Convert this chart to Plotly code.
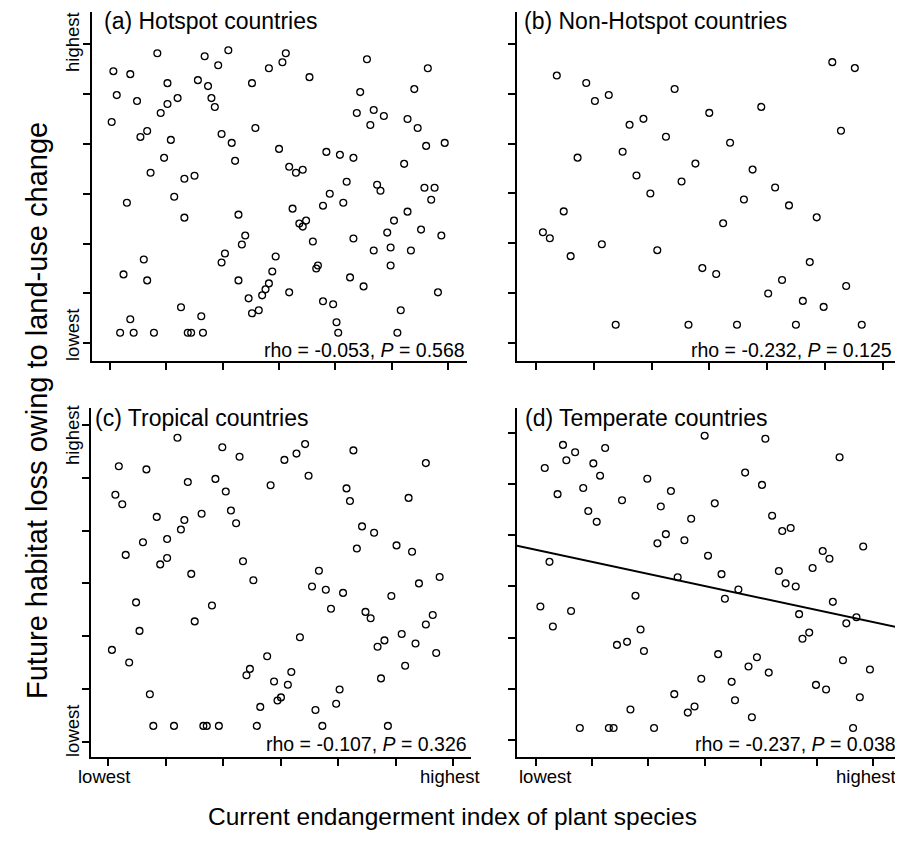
import plotly.graph_objects as go

# ---------------- data (index scale: 0 = lowest, 100 = highest) ----------------
hot_x = [1, 6, 2, 0.5, 8, 14, 17, 17, 20, 15,
         9, 11, 18, 16, 12, 22, 25, 5, 19, 22,
         28, 32, 35, 26, 29, 30, 31, 33, 36, 37,
         42, 43, 47, 51, 52, 59, 50, 53, 55, 57,
         38, 40, 39, 34, 33, 38, 41, 42, 44, 45,
         46, 47, 48, 49, 53, 54, 56, 57, 58, 60,
         61, 61.5, 63, 63, 66, 67, 67.5, 64, 68, 72,
         65, 70, 69, 71, 72, 75, 76, 74, 73, 78,
         77, 81, 79, 80, 78, 82, 83, 83, 84, 86,
         85, 87, 88, 90, 91, 93.5, 94, 93, 96, 95,
         88, 92, 89, 98, 99, 97, 4, 10, 11, 6,
         3, 7, 13, 21, 23, 24, 27, 27.5]
hot_y = [91, 90, 83, 74, 81, 97, 87, 80, 82, 77,
         69, 71, 68, 62, 57, 55, 56, 47, 49, 42,
         96, 93, 98, 88, 86, 82, 79, 70, 67, 61,
         87, 72, 92, 94, 97, 89, 65, 59, 57, 58,
         43, 36, 33, 30, 27, 21, 15, 10, 11, 16,
         18, 20, 24, 29, 17, 45, 40, 39, 41, 34,
         25, 26, 46, 14, 13, 7, 3.5, 64, 63, 62,
         50, 54, 47, 22, 35, 19, 95, 84, 77, 78,
         73, 76, 53, 51, 31, 37, 32, 26, 41, 11,
         3.5, 60, 75, 85, 72, 66, 92, 52, 52, 48,
         44, 38, 31, 36, 67, 17, 23, 28, 21, 8,
         3.5, 3.5, 3.5, 12, 3.5, 3.5, 9, 3.5]

nonhot_x = [6, 14.5, 17, 21, 12, 8, 2, 4, 10, 19,
            23, 27, 31, 25, 29, 33, 37.5, 40, 42, 46,
            35, 44, 48, 52, 50, 56, 54, 58, 60, 62.5,
            65, 69, 73, 67, 71, 75, 77, 79, 81, 83,
            85.5, 92, 88, 89.5, 94]
nonhot_y = [89.5, 87, 81, 83, 62, 44, 37, 35, 29, 33,
            6, 73, 75, 64, 56, 50, 69, 85, 54, 60,
            31, 6, 25, 23, 77, 67, 40, 6, 48, 58,
            79, 52, 46, 16.5, 21, 6, 14, 27, 42, 12,
            94, 92, 71, 19, 6]

trop_x = [3, 11, 2, 4, 20, 23, 14, 22, 21, 17,
          10, 5, 17, 15, 27, 24, 33, 38, 31, 34,
          35.5, 37, 39, 42, 47, 51, 54.5, 57, 58, 8,
          9, 1, 6, 12, 13, 19, 27.5, 28.5, 32, 30,
          25, 43, 44, 40, 41, 46, 48, 49, 50, 52,
          53, 55.5, 59, 61, 63, 64.5, 68, 60, 62, 66,
          67, 71, 69, 70, 73.5, 77, 72, 92, 87, 83.5,
          88, 96, 90, 82, 74.5, 76, 94, 92, 85, 80,
          78, 89, 95, 86, 79, 81]
trop_y = [87, 86, 78, 75, 96, 82, 71, 70, 67, 64,
          63, 59, 58, 56, 72, 53, 93, 90, 83, 79,
          73, 69, 57, 51, 81, 89, 91, 94, 84, 44,
          35, 29, 25, 15, 5, 5, 5, 5, 5, 43,
          38, 5, 11, 21, 23, 27, 19, 13, 14, 18,
          22, 33, 49, 54, 48, 42, 47, 10, 5, 12,
          16.5, 92, 80, 76, 68, 66, 61, 88, 77, 62,
          60, 52, 50, 46, 41, 39, 40, 37, 34, 32,
          30, 31, 28, 24, 20, 5]

temp_x = [2.6, 8, 9, 11.6, 6.4, 14, 17, 19, 20.5, 15.5,
          18, 25.5, 4, 1.3, 5, 10.4, 13, 21.6, 23, 28,
          24, 27, 31, 32, 29.5, 33, 36, 37, 38.5, 40,
          35, 41, 42, 44, 45, 46, 47, 49, 50, 51,
          53, 54, 55, 56, 58, 59, 60, 62, 63, 64,
          65.5, 67, 68, 69, 70, 72, 73, 74, 75.5, 77,
          78, 79, 81, 82, 83, 85, 86, 87, 88, 90,
          91, 92, 94, 95, 96, 97, 99]
temp_y = [88.5, 96, 91, 93.6, 80, 82, 90, 86, 95, 74.5,
          71, 78, 58, 43.5, 37, 42, 4, 4, 4, 10,
          31, 32, 36, 29, 47, 85, 64, 76, 67, 81,
          4, 15, 53, 65, 9, 72, 11, 20, 99, 60,
          77, 28, 54, 46, 19, 13, 49, 87, 24, 7.5,
          27, 83, 98, 22, 73, 55, 68, 51, 69, 50,
          41, 33, 35, 56, 18, 61.5, 16.5, 59, 45, 92,
          26, 38, 4, 40, 14, 63, 23]

# fitted regression for temperate countries (intercept, slope)
temp_fit_intercept = 61.9
temp_fit_slope = -0.235

panel_titles = ["(a) Hotspot countries", "(b) Non-Hotspot countries",
                "(c) Tropical countries", "(d) Temperate countries"]
panel_stats = ["rho = -0.053, <i>P</i> = 0.568", "rho = -0.232, <i>P</i> = 0.125",
               "rho = -0.107, <i>P</i> = 0.326", "rho = -0.237, <i>P</i> = 0.038"]

tick_vals = [0, 100 / 6, 200 / 6, 50, 400 / 6, 500 / 6, 100]
x_axis_labels = ["lowest", "highest"]
y_axis_labels = ["lowest", "highest"]

x_title = "Current endangerment index of plant species"
y_title = "Future habitat loss owing to land-use change"

# ---------------- layout geometry ----------------
FONT = "Liberation Sans"
OFF = 8                          # page body margin of the html page
W, H = 903, 843                  # window size
FW, FH = W - OFF, H - 2 * OFF    # figure size so that the page fits the window


def fx(px):
    return (px - OFF) / FW


def fy(py):
    return 1 - (py - OFF) / FH


# panel boxes in window pixels: left, right, top, bottom
boxes = [(91.7, 466.7, 11.7, 360.5), (517, 903, 11.7, 360.5),
         (90.7, 470.7, 408.3, 757), (517, 903, 408.3, 757)]

panels = [
    dict(x=hot_x, y=hot_y, xr=[-5.41, 105.5], yr=[-5.8, 110.9],
         xlab=None, ylab=(335, 42), tpos=(0.027, 0.973), spos=(1.0, 0.0315)),
    dict(x=nonhot_x, y=nonhot_y, xr=[-5.48, 105.9], yr=[-5.96, 110.9],
         xlab=None, ylab=None, tpos=(0.014, 0.973), spos=(0.977, 0.0315)),
    dict(x=trop_x, y=trop_y, xr=[-5.15, 105.0], yr=[-4.83, 105.3],
         xlab=(104, 450), ylab=(731, 435), tpos=(0.007, 0.973), spos=(0.996, 0.036)),
    dict(x=temp_x, y=temp_y, xr=[-5.63, 108.8], yr=[-5.43, 107.9],
         xlab=(545, 866), ylab=None, tpos=(0.016, 0.971), spos=(0.987, 0.038)),
]

fig = go.Figure()
annotations = []
layout_axes = {}
label_font = dict(family=FONT, size=18.5, color="black")

for i, p in enumerate(panels):
    n = "" if i == 0 else str(i + 1)
    l, r, t, b = boxes[i]
    xd = [max(0, fx(l)), min(1, fx(r))]
    yd = [max(0, fy(b)), min(1, fy(t))]
    fig.add_trace(go.Scatter(
        x=p["x"], y=p["y"], mode="markers", xaxis="x" + n, yaxis="y" + n,
        marker=dict(symbol="circle-open", size=6.8, color="black",
                    line=dict(color="black", width=1.3)),
        showlegend=False, hoverinfo="x+y"))
    common = dict(showline=True, linecolor="black", linewidth=2,
                  ticks="outside", ticklen=7, tickwidth=2, tickcolor="black",
                  tickvals=tick_vals, showgrid=False, zeroline=False,
                  automargin=False, showticklabels=False, fixedrange=True)
    layout_axes["xaxis" + n] = dict(common, range=p["xr"], domain=xd, anchor="y" + n)
    layout_axes["yaxis" + n] = dict(common, range=p["yr"], domain=yd, anchor="x" + n)
    if p["ylab"] is not None:
        for txt, py in zip(y_axis_labels, p["ylab"]):
            annotations.append(dict(text=txt, xref="paper", yref="paper",
                                    x=fx(72), y=fy(py), xanchor="center",
                                    yanchor="middle", textangle=-90,
                                    showarrow=False, font=label_font))
    if p["xlab"] is not None:
        for txt, px in zip(x_axis_labels, p["xlab"]):
            annotations.append(dict(text=txt, xref="paper", yref="paper",
                                    x=fx(px), y=fy(776), xanchor="center",
                                    yanchor="middle", showarrow=False,
                                    font=label_font))
    annotations.append(dict(text=panel_titles[i], xref="x%s domain" % n,
                            yref="y%s domain" % n, x=p["tpos"][0], y=p["tpos"][1],
                            xanchor="left", yanchor="middle", showarrow=False,
                            font=dict(family=FONT, size=23, color="black")))
    annotations.append(dict(text=panel_stats[i], xref="x%s domain" % n,
                            yref="y%s domain" % n, x=p["spos"][0], y=p["spos"][1],
                            xanchor="right", yanchor="middle", showarrow=False,
                            font=dict(family=FONT, size=19.5, color="black")))

# regression line across the temperate panel
fit_x = panels[3]["xr"]
fit_y = [temp_fit_intercept + temp_fit_slope * v for v in fit_x]
fig.add_trace(go.Scatter(x=fit_x, y=fit_y, mode="lines", xaxis="x4", yaxis="y4",
                         line=dict(color="black", width=2), showlegend=False,
                         hoverinfo="skip"))

annotations.append(dict(text=x_title, xref="paper", yref="paper",
                        x=fx(452), y=fy(816), xanchor="center", yanchor="middle",
                        showarrow=False, font=dict(family=FONT, size=24.5, color="black")))
annotations.append(dict(text=y_title, xref="paper", yref="paper",
                        x=fx(37), y=fy(411), xanchor="center", yanchor="middle",
                        textangle=-90, showarrow=False,
                        font=dict(family=FONT, size=29, color="black")))

fig.update_layout(template="none", width=FW, height=FH,
                  margin=dict(l=0, r=0, t=0, b=0, pad=0, autoexpand=False),
                  paper_bgcolor="white", plot_bgcolor="white",
                  annotations=annotations, **layout_axes)

fig.write_html("out.html")
